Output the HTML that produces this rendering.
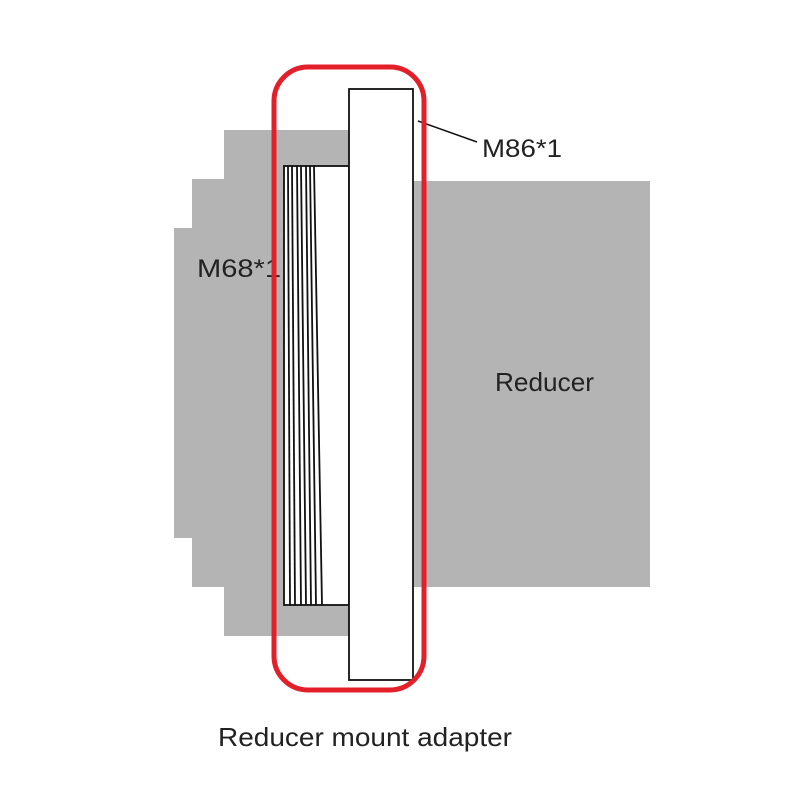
<!DOCTYPE html>
<html><head><meta charset="utf-8"><style>html,body{margin:0;padding:0;background:#fff}svg{display:block}</style></head>
<body>
<svg width="800" height="800" viewBox="0 0 800 800" xmlns="http://www.w3.org/2000/svg">
<rect width="800" height="800" fill="#fff"/>
<polygon fill="#b4b4b4" points="224,130 349,130 349,636 224,636 224,587 192,587 192,538 174,538 174,228 192,228 192,179 224,179"/>
<rect x="412" y="181" width="238" height="406" fill="#b4b4b4"/>
<rect x="284" y="166" width="65" height="439" fill="#fff" stroke="#111" stroke-width="1.8"/>
<g stroke="#111" stroke-width="1.8">
<line x1="288" y1="166" x2="290" y2="605"/>
<line x1="292" y1="166" x2="295" y2="605"/>
<line x1="297" y1="166" x2="301" y2="605"/>
<line x1="301" y1="166" x2="306" y2="605"/>
<line x1="306" y1="166" x2="311" y2="605"/>
<line x1="310" y1="166" x2="316" y2="605"/>
<line x1="314" y1="166" x2="322" y2="605"/>
</g>
<rect x="349" y="89" width="64" height="591" fill="#fff" stroke="#111" stroke-width="1.8"/>
<line x1="418" y1="121" x2="477" y2="142" stroke="#111" stroke-width="1.5"/>
<g font-family="Liberation Sans, sans-serif" fill="#222">
<text x="482" y="157" font-size="25" textLength="80" lengthAdjust="spacingAndGlyphs">M86*1</text>
<text x="197" y="277" font-size="25" textLength="84" lengthAdjust="spacingAndGlyphs">M68*1</text>
<text x="495" y="391" font-size="26" textLength="99" lengthAdjust="spacingAndGlyphs">Reducer</text>
<text x="218" y="746" font-size="26" textLength="294" lengthAdjust="spacingAndGlyphs">Reducer mount adapter</text>
</g>
<rect x="274" y="67" width="150" height="623" rx="34" ry="34" fill="none" stroke="#e3202a" stroke-width="5"/>
</svg>
</body></html>
